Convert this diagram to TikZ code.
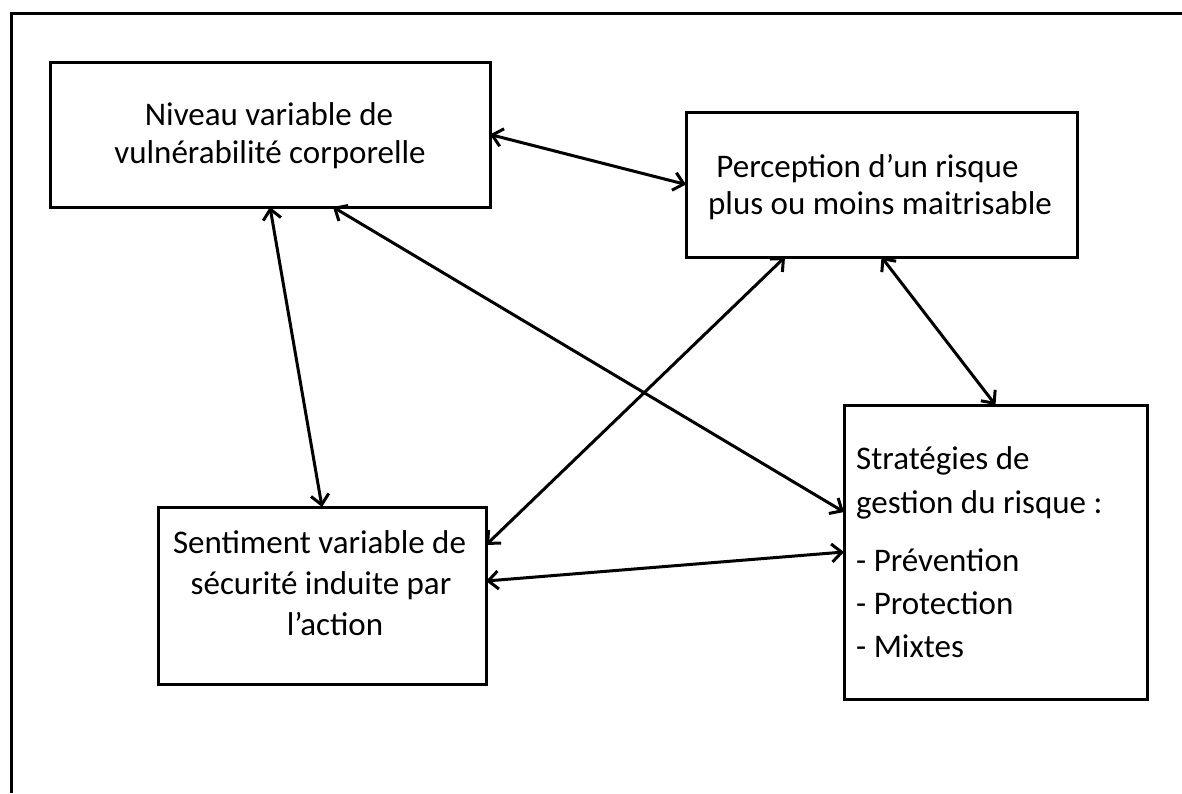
\documentclass[tikz,border=0pt]{standalone}
\usepackage{fontspec}
\setmainfont{Carlito}
\usetikzlibrary{arrows.meta}
\begin{document}
\begin{tikzpicture}[x=1pt,y=-1pt,
  box/.style={draw=black,line width=3pt,inner sep=0pt,outer sep=0pt,fill=white},
  txt/.style={anchor=base,inner sep=0pt,font=\fontsize{33}{38}\selectfont},
  txtl/.style={txt,anchor=base west},
  link/.style={{Straight Barb[length=10pt,width=18pt]}-{Straight Barb[length=10pt,width=18pt]},line width=3pt,line join=round}]
\useasboundingbox (0,0) rectangle (1182,793);
% outer frame
\draw[line width=3pt] (11.5,793) -- (11.5,13) -- (1182,13);
% boxes
\node[box,minimum width=440pt,minimum height=145pt] (b1) at (270,134.5) {};
\node[box,minimum width=391pt,minimum height=145pt] (b2) at (881.5,184.5) {};
\node[box,minimum width=328pt,minimum height=177pt] (b3) at (322,595.5) {};
\node[box,minimum width=303pt,minimum height=294pt] (b4) at (995.5,552) {};
% texts
\node[txt] (t1a) at (269,125) {Niveau variable de};
\node[txt] (t1b) at (270,163) {vulnérabilité corporelle};
\node[txt] (t2a) at (867.5,177) {Perception d’un risque};
\node[txt] (t2b) at (880,214) {plus ou moins maitrisable};
\node[txt] (t3a) at (319.5,553) {Sentiment variable de};
\node[txt] (t3b) at (321,594) {sécurité induite par};
\node[txt] (t3c) at (335,635) {l’action};
\node[txtl] (t4a) at (856,469) {Stratégies de};
\node[txtl] (t4b) at (856,513) {gestion du risque :};
\node[txtl] (t4c) at (856,571) {- Prévention};
\node[txtl] (t4d) at (856,614) {- Protection};
\node[txtl] (t4e) at (856,657) {- Mixtes};
% connectors
\draw[link] (b1.east) -- (b2.west);
\draw[link] (b1.south) -- (b3.north);
\draw[link] ([xshift=63pt]b1.south) -- ([yshift=40pt]b4.west);
\draw[link] ([xshift=-96.5pt]b2.south) -- ([yshift=50.5pt]b3.east);
\draw[link] (b2.south) -- (b4.north);
\draw[link] ([yshift=14.5pt]b3.east) -- (b4.west);
\end{tikzpicture}
\end{document}
